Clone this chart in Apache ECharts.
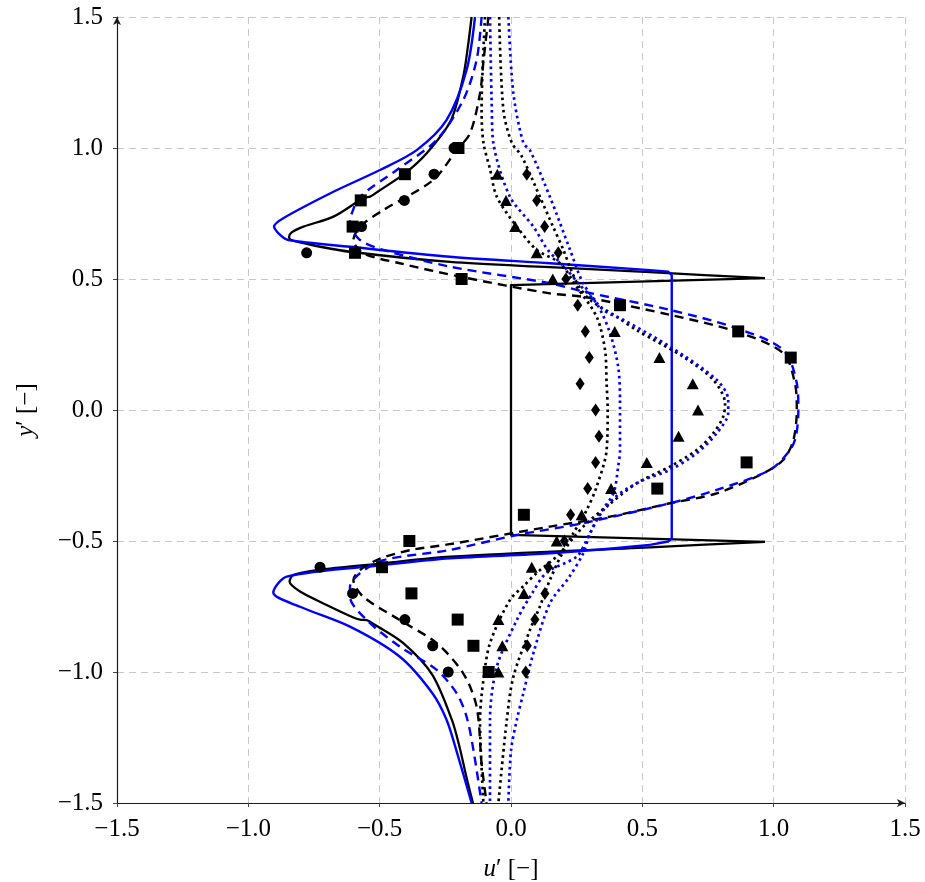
<!DOCTYPE html>
<html>
<head>
<meta charset="utf-8">
<title>Velocity profiles u′ over y′</title>
<script src="https://cdn.jsdelivr.net/npm/echarts@6/dist/echarts.min.js"></script>
<style>
  html, body { margin: 0; padding: 0; background: #ffffff; }
  #chart { width: 925px; height: 882px; }
</style>
</head>
<body>
<div id="chart"></div>
<script>
// Axis ticks
const xTicks = [-1.5, -1.0, -0.5, 0.0, 0.5, 1.0, 1.5];
const yTicks = [-1.5, -1.0, -0.5, 0.0, 0.5, 1.0, 1.5];

// Profiles as [u', y'] pairs, traced from top (y' = 1.5) to bottom (y' = -1.5).
// Curved stretches are drawn smoothed, the sharp jet edges are drawn straight.
const solidBlackUpper = [
  [-0.150, 1.500], [-0.165, 1.380], [-0.182, 1.272], [-0.228, 1.107], [-0.321, 0.980],
  [-0.404, 0.903], [-0.505, 0.835], [-0.535, 0.815], [-0.560, 0.810], [-0.676, 0.738],
  [-0.790, 0.700], [-0.835, 0.678], [-0.845, 0.660], [-0.835, 0.648], [-0.750, 0.628],
  [-0.613, 0.604], [-0.232, 0.565], [0.148, 0.545], [0.529, 0.526], [0.967, 0.503]
];
const solidBlackCore = [
  [0.967, 0.503], [0.000, 0.477], [0.000, -0.477], [0.967, -0.503]
];
const solidBlackLower = [
  [0.967, -0.503], [0.529, -0.524], [-0.232, -0.560],
  [-0.486, -0.585], [-0.740, -0.611], [-0.829, -0.630], [-0.843, -0.655], [-0.803, -0.693],
  [-0.700, -0.745], [-0.600, -0.792], [-0.575, -0.800], [-0.549, -0.802], [-0.518, -0.820],
  [-0.410, -0.890], [-0.300, -1.010], [-0.225, -1.183], [-0.195, -1.290], [-0.170, -1.400],
  [-0.145, -1.500]
];
const solidBlueUpper = [
  [-0.137, 1.500], [-0.169, 1.298], [-0.245, 1.107], [-0.359, 0.992], [-0.499, 0.916],
  [-0.676, 0.833], [-0.867, 0.732], [-0.902, 0.700], [-0.879, 0.668], [-0.848, 0.649],
  [-0.613, 0.623], [-0.232, 0.585], [0.148, 0.560], [0.529, 0.534]
];
const solidBlueCore = [
  [0.529, 0.534], [0.598, 0.528], [0.612, 0.515], [0.612, -0.490], [0.598, -0.502], [0.529, -0.515]
];
const solidBlueLower = [
  [0.529, -0.515], [0.148, -0.547],
  [-0.232, -0.566], [-0.486, -0.592], [-0.854, -0.636], [-0.905, -0.697], [-0.803, -0.751],
  [-0.613, -0.827], [-0.423, -0.942], [-0.300, -1.080], [-0.245, -1.183], [-0.205, -1.310],
  [-0.150, -1.500]
];
const dashedBlack = [
  [-0.086, 1.500], [-0.105, 1.330], [-0.118, 1.209], [-0.156, 1.056], [-0.207, 0.992],
  [-0.296, 0.878], [-0.486, 0.763], [-0.575, 0.700], [-0.600, 0.649], [-0.562, 0.598],
  [-0.423, 0.560], [-0.194, 0.509], [0.148, 0.445], [0.275, 0.432], [0.605, 0.363],
  [0.859, 0.299], [1.037, 0.216], [1.081, 0.102], [1.088, 0.000], [1.075, -0.115],
  [1.037, -0.190], [0.960, -0.242], [0.783, -0.318], [0.605, -0.356], [0.377, -0.407],
  [0.148, -0.445], [-0.232, -0.512], [-0.384, -0.535], [-0.500, -0.568], [-0.575, -0.611],
  [-0.600, -0.649], [-0.562, -0.713], [-0.423, -0.802], [-0.283, -0.890], [-0.182, -1.005],
  [-0.131, -1.132], [-0.112, -1.349], [-0.093, -1.500]
];
const dashedBlue = [
  [-0.112, 1.500], [-0.131, 1.336], [-0.182, 1.183], [-0.283, 1.031], [-0.435, 0.916],
  [-0.575, 0.814], [-0.606, 0.751], [-0.613, 0.713], [-0.575, 0.649], [-0.486, 0.611],
  [-0.232, 0.547], [0.148, 0.484], [0.275, 0.452], [0.605, 0.382], [0.859, 0.312],
  [1.037, 0.229], [1.088, 0.102], [1.094, 0.000], [1.085, -0.100], [1.062, -0.153],
  [0.986, -0.229], [0.783, -0.305], [0.605, -0.356], [0.275, -0.432], [0.022, -0.477],
  [-0.232, -0.534], [-0.486, -0.573], [-0.575, -0.623], [-0.613, -0.674], [-0.613, -0.713],
  [-0.549, -0.802], [-0.423, -0.903], [-0.283, -0.992], [-0.207, -1.081], [-0.169, -1.171],
  [-0.143, -1.298], [-0.112, -1.500]
];
// Narrow-core dotted profiles
const dottedBlackInner = [
  [-0.099, 1.500], [-0.112, 1.145], [-0.105, 1.020], [-0.080, 0.920], [-0.054, 0.814],
  [0.022, 0.700], [0.098, 0.611], [0.187, 0.560], [0.250, 0.470], [0.326, 0.356],
  [0.358, 0.229], [0.364, 0.102], [0.368, 0.000], [0.364, -0.153], [0.326, -0.293],
  [0.288, -0.382], [0.237, -0.471], [0.187, -0.547], [0.100, -0.620], [0.050, -0.670],
  [-0.004, -0.725], [-0.080, -0.890], [-0.105, -1.031], [-0.118, -1.183], [-0.105, -1.500]
];
const dottedBlueInner = [
  [-0.080, 1.500], [-0.073, 1.145], [-0.067, 1.018], [-0.004, 0.814], [0.085, 0.700],
  [0.141, 0.610], [0.200, 0.550], [0.260, 0.480], [0.330, 0.400], [0.377, 0.293],
  [0.408, 0.165], [0.415, 0.038], [0.415, -0.153], [0.408, -0.216], [0.390, -0.318],
  [0.339, -0.394], [0.288, -0.496], [0.250, -0.560], [0.136, -0.620], [0.080, -0.700],
  [0.022, -0.802], [-0.054, -0.980], [-0.080, -1.183], [-0.080, -1.500]
];
// Wide-core dotted profiles
const dottedBlackOuter = [
  [-0.045, 1.500], [-0.029, 1.145], [0.003, 1.020], [0.040, 0.970], [0.110, 0.814],
  [0.160, 0.700], [0.200, 0.610], [0.230, 0.530], [0.260, 0.470], [0.301, 0.420],
  [0.402, 0.356], [0.478, 0.305], [0.656, 0.203], [0.770, 0.115], [0.815, 0.025],
  [0.808, -0.025], [0.770, -0.089], [0.707, -0.153], [0.605, -0.216], [0.478, -0.280],
  [0.364, -0.369], [0.275, -0.445], [0.200, -0.540], [0.148, -0.649], [0.110, -0.750],
  [0.072, -0.840], [0.009, -1.018], [-0.016, -1.183], [-0.048, -1.500]
];
const dottedBlueOuter = [
  [-0.010, 1.500], [0.009, 1.209], [0.047, 1.019], [0.072, 0.992], [0.148, 0.814],
  [0.225, 0.611], [0.275, 0.484], [0.352, 0.382], [0.428, 0.344], [0.605, 0.242],
  [0.783, 0.115], [0.827, 0.038], [0.827, -0.010], [0.783, -0.089], [0.707, -0.165],
  [0.605, -0.229], [0.504, -0.267], [0.415, -0.318], [0.352, -0.382], [0.301, -0.471],
  [0.275, -0.547], [0.220, -0.640], [0.148, -0.738], [0.085, -0.929], [0.047, -1.081],
  [0.022, -1.183], [0.000, -1.300], [-0.010, -1.500]
];

// Measured points
const circleY = [1.0, 0.9, 0.8, 0.7, 0.6, -0.6, -0.7, -0.8, -0.9, -1.0];
const circleX = [-0.217, -0.293, -0.406, -0.569, -0.778, -0.727, -0.603, -0.404, -0.298, -0.239];

const squareY = [1.0, 0.9, 0.8, 0.7, 0.6, 0.5, 0.4, 0.3, 0.2, -0.2, -0.3, -0.4, -0.5, -0.6, -0.7, -0.8, -0.9, -1.0];
const squareX = [-0.200, -0.404, -0.572, -0.603, -0.594, -0.188, 0.415, 0.865, 1.065, 0.897, 0.557, 0.049, -0.387, -0.491, -0.379, -0.203, -0.143, -0.085];

const triangleY = [0.9, 0.8, 0.7, 0.6, 0.5, 0.3, 0.2, 0.1, 0.0, -0.1, -0.2, -0.3, -0.4, -0.5, -0.6, -0.7, -0.8, -0.9, -1.0];
const triangleX = [-0.052, -0.019, 0.016, 0.098, 0.159, 0.395, 0.565, 0.692, 0.712, 0.638, 0.517, 0.381, 0.269, 0.174, 0.079, 0.049, -0.048, -0.033, -0.048];

const diamondY = [0.9, 0.8, 0.7, 0.6, 0.5, 0.4, 0.3, 0.2, 0.1, 0.0, -0.1, -0.2, -0.3, -0.4, -0.5, -0.6, -0.7, -0.8, -0.9, -1.0];
const diamondX = [0.060, 0.098, 0.128, 0.180, 0.209, 0.254, 0.283, 0.298, 0.263, 0.322, 0.335, 0.322, 0.292, 0.227, 0.203, 0.142, 0.129, 0.091, 0.062, 0.056];

const BLUE = '#0000ff';
const BLACK = '#000000';
const FONT = '"Liberation Serif", "DejaVu Serif", serif';
const DASH = [9, 6];
const DOT = [2.6, 3.6];

function fmt(v) {
  const s = Math.abs(v).toFixed(1);
  return v < 0 ? '\u2212' + s : s;
}
function zip(xs, ys) { return xs.map((x, i) => [x, ys[i]]); }

function curve(name, data, color, type, width, smooth) {
  return {
    name, type: 'line', data, showSymbol: false, symbol: 'none', silent: true,
    animation: false, z: 3, smooth: smooth,
    lineStyle: { color, width, type, cap: 'butt', join: 'round' }
  };
}
function marks(name, data, symbol, size) {
  return {
    name, type: 'scatter', data, symbol, symbolSize: size, silent: true,
    animation: false, z: 5, itemStyle: { color: BLACK, opacity: 1 }
  };
}

function axis(ticks, extra) {
  return Object.assign({
    type: 'value', min: ticks[0], max: ticks[ticks.length - 1], interval: ticks[1] - ticks[0],
    axisLine: { show: true, onZero: false, lineStyle: { color: '#1a1a1a', width: 1.2 },
                symbol: ['none', 'arrow'], symbolSize: [6, 8] },
    axisTick: { show: true, length: 4, lineStyle: { color: '#444', width: 1 } },
    splitLine: { show: true, lineStyle: { color: '#c8c8c8', width: 1, type: [7, 5] } },
    axisLabel: { color: BLACK, fontFamily: FONT, fontSize: 25, formatter: fmt, margin: 14 },
    nameLocation: 'middle',
    nameTextStyle: { color: BLACK, fontFamily: FONT, fontSize: 25,
                     rich: { i: { fontStyle: 'italic', fontFamily: FONT, fontSize: 25, color: BLACK } } }
  }, extra);
}

const chart = echarts.init(document.getElementById('chart'), null, { renderer: 'canvas' });
chart.setOption({
  animation: false,
  backgroundColor: '#ffffff',
  grid: { left: 117, right: 20, top: 17, bottom: 79, containLabel: false, outerBoundsMode: 'none' },
  xAxis: axis(xTicks, { name: '{i|u}\u2032 [\u2212]', nameGap: 54 }),
  yAxis: axis(yTicks, { name: '{i|y}\u2032 [\u2212]', nameGap: 78 }),
  series: [
    curve('solid black', solidBlackUpper, BLACK, 'solid', 2.3, 0.3),
    curve('solid black', solidBlackCore, BLACK, 'solid', 2.3, false),
    curve('solid black', solidBlackLower, BLACK, 'solid', 2.3, 0.3),
    curve('solid blue', solidBlueUpper, BLUE, 'solid', 2.4, 0.3),
    curve('solid blue', solidBlueCore, BLUE, 'solid', 2.4, false),
    curve('solid blue', solidBlueLower, BLUE, 'solid', 2.4, 0.3),
    curve('dashed black', dashedBlack, BLACK, DASH, 2.4, 0.3),
    curve('dashed blue', dashedBlue, BLUE, DASH, 2.4, 0.3),
    curve('dotted black inner', dottedBlackInner, BLACK, DOT, 2.7, 0.3),
    curve('dotted blue inner', dottedBlueInner, BLUE, DOT, 2.7, 0.3),
    curve('dotted black outer', dottedBlackOuter, BLACK, DOT, 2.7, 0.3),
    curve('dotted blue outer', dottedBlueOuter, BLUE, DOT, 2.7, 0.3),
    marks('circles', zip(circleX, circleY), 'circle', 11),
    marks('squares', zip(squareX, squareY), 'rect', 12),
    marks('triangles', zip(triangleX, triangleY), 'triangle', [12, 11]),
    marks('diamonds', zip(diamondX, diamondY), 'diamond', [9, 13])
  ]
});
</script>
</body>
</html>
